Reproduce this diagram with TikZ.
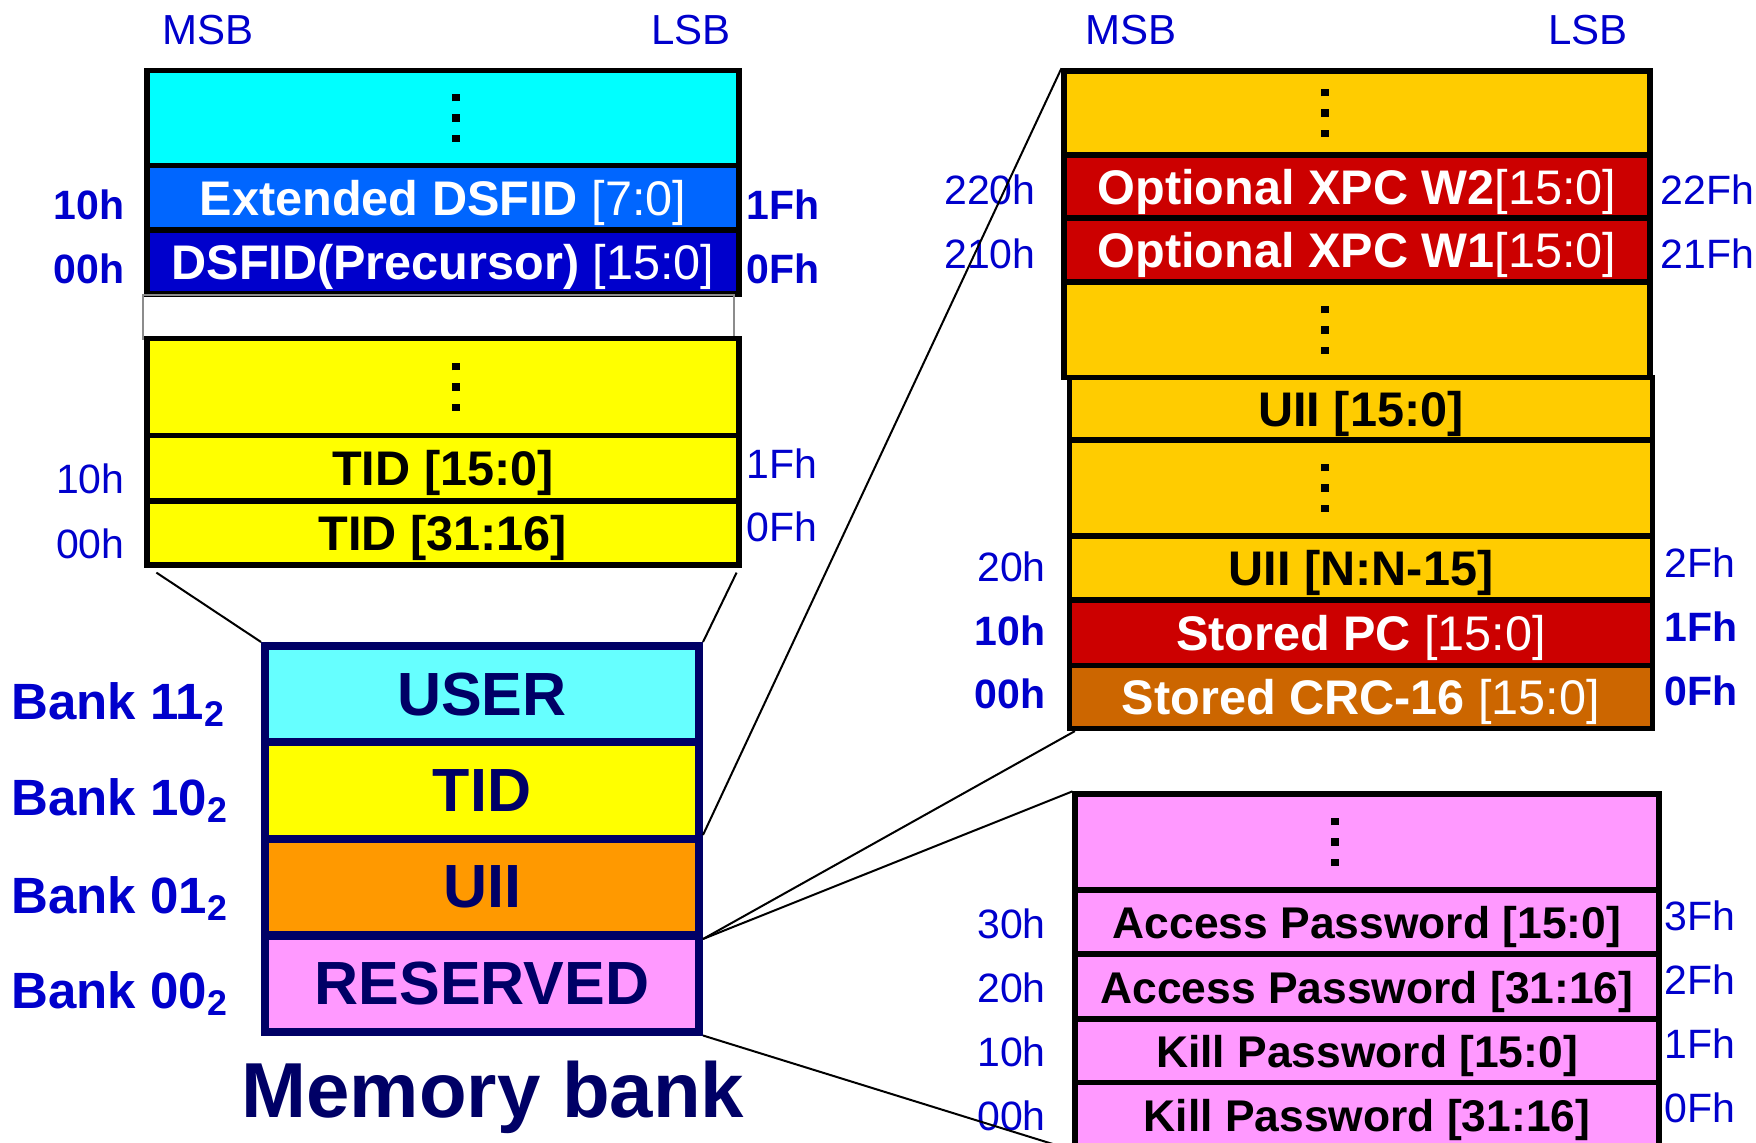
\documentclass[tikz,border=0pt]{standalone}
\usepackage{fontspec}
\setmainfont{Liberation Sans}
\usetikzlibrary{positioning, calc}

\definecolor{addrblue}{RGB}{0, 0, 204}
\definecolor{banknavy}{RGB}{0, 0, 102}
\definecolor{usercyan}{RGB}{102, 255, 255}
\definecolor{tidcyan}{RGB}{0, 255, 255}
\definecolor{tidyellow}{RGB}{255, 255, 0}
\definecolor{extblue}{RGB}{0, 102, 255}
\definecolor{precblue}{RGB}{0, 0, 204}
\definecolor{uiiorange}{RGB}{255, 153, 0}
\definecolor{resepink}{RGB}{255, 153, 255}
\definecolor{uiigold}{RGB}{255, 204, 0}
\definecolor{xpcred}{RGB}{204, 0, 0}
\definecolor{crcbrown}{RGB}{204, 102, 0}

% three square dots, stacked
\newcommand{\dotcol}{\vbox{\offinterlineskip\hbox{\rule{3.6pt}{3.6pt}}\vskip6.5pt\hbox{\rule{3.6pt}{3.6pt}}\vskip6.5pt\hbox{\rule{3.6pt}{3.6pt}}}}
\newcommand{\bits}[1]{{\mdseries#1}}

\begin{document}
\begin{tikzpicture}[x=0.5pt, y=-0.5pt,
  cell/.style={draw=black, line width=2.6pt, inner sep=0pt, text depth=0pt, font=\bfseries\fontsize{24.3}{28}\selectfont},
  tlcell/.style={cell, minimum width=296pt, minimum height=32.5pt},
  uiicell/.style={cell, minimum width=293pt, minimum height=32pt, fill=uiigold},
  lowcell/.style={cell, minimum width=291.5pt, minimum height=32pt, fill=uiigold},
  rescell/.style={cell, minimum width=292pt, minimum height=32pt, fill=resepink, font=\bfseries\fontsize{22.2}{26}\selectfont},
  bankcell/.style={draw=banknavy, line width=4pt, inner sep=0pt, text depth=0pt, minimum width=217pt, minimum height=48pt, text=banknavy, font=\bfseries\fontsize{30.5}{36}\selectfont},
  addr/.style={text=addrblue, inner sep=0pt, font=\fontsize{20.5}{24}\selectfont},
  addrb/.style={addr, font=\bfseries\fontsize{20.5}{24}\selectfont},
  banklabel/.style={text=addrblue, inner sep=0pt, anchor=base west, font=\bfseries\fontsize{25.5}{30}\selectfont},
  link/.style={draw=black, line width=1pt}
]
  \useasboundingbox (0,0) rectangle (1756,1143);

  % TID / USER detail, top left
  \node[addr, font=\fontsize{21}{24}\selectfont] (msbA) at (208,30) {MSB};
  \node[addr, font=\fontsize{21}{24}\selectfont] (lsbA) at (691,30) {LSB};
  \node[tlcell, fill=tidcyan, minimum height=47.5pt] (userDots) at (443,118) {\hspace*{13pt}\dotcol};
  \node[tlcell, fill=extblue, text=white] (extDsfid) at (443,198) {Extended DSFID \bits{[7:0]}};
  \node[tlcell, fill=precblue, text=white, minimum height=32pt] (dsfid) at (443,262) {DSFID(Precursor) \bits{[15:0]}};
  \node[draw=black!45, line width=0.8pt, minimum width=295.5pt, minimum height=22pt, inner sep=0pt] (gap) at (438.5,317) {};
  \node[tlcell, fill=tidyellow, minimum height=48.5pt] (tidDots) at (443,387) {\hspace*{13pt}\dotcol};
  \node[tlcell, fill=tidyellow] (tidA) at (443,468) {TID [15:0]};
  \node[tlcell, fill=tidyellow, minimum height=32pt] (tidB) at (443,533) {TID [31:16]};

  \foreach \t/\y/\s/\n in {10h/205/addrb/a, 00h/269/addrb/b, 10h/479/addr/c, 00h/544/addr/d}
    \node[\s, anchor=east] (tlL\n) at (125,\y) {\t};
  \foreach \t/\y/\s/\n in {1Fh/205/addrb/a, 0Fh/269/addrb/b, 1Fh/464/addr/c, 0Fh/527/addr/d}
    \node[\s, anchor=west] (tlR\n) at (746,\y) {\t};

  % memory banks
  \node[bankcell, fill=usercyan] (user) at (482,694) {USER};
  \node[bankcell, fill=tidyellow] (tid) at (482,790.5) {TID};
  \node[bankcell, fill=uiiorange] (uii) at (482,887) {UII};
  \node[bankcell, fill=resepink] (reserved) at (482,983.5) {RESERVED};
  \node[text=banknavy, inner sep=0pt, font=\bfseries\fontsize{39}{44}\selectfont] (membank) at (493,1097) {Memory bank};

  \node[banklabel] (bank11) at (11,719) {Bank 11\textsubscript{2}};
  \node[banklabel] (bank10) at (11,815) {Bank 10\textsubscript{2}};
  \node[banklabel] (bank01) at (11,913) {Bank 01\textsubscript{2}};
  \node[banklabel] (bank00) at (11,1008) {Bank 00\textsubscript{2}};

  % UII detail, top right
  \node[addr, font=\fontsize{21}{24}\selectfont] (msbB) at (1131,30) {MSB};
  \node[addr, font=\fontsize{21}{24}\selectfont] (lsbB) at (1588,30) {LSB};
  \node[uiicell, minimum height=42pt] (uiiDotsA) at (1357,113) {\dotcol\hspace*{32pt}};
  \node[uiicell, fill=xpcred, text=white] (xpcW2) at (1357,187) {Optional XPC W2\bits{[15:0]}};
  \node[uiicell, fill=xpcred, text=white] (xpcW1) at (1357,250) {Optional XPC W1\bits{[15:0]}};
  \node[uiicell, minimum height=47.5pt] (uiiDotsB) at (1357,330) {\dotcol\hspace*{32pt}};
  \node[lowcell, minimum height=31.5pt] (uiiLow) at (1361,409) {UII [15:0]};
  \node[lowcell, minimum height=48pt] (uiiDotsC) at (1361,488) {\dotcol\hspace*{36pt}};
  \node[lowcell] (uiiHigh) at (1361,568) {UII [N:N-15]};
  \node[lowcell, fill=xpcred, text=white, minimum height=32.5pt] (storedPc) at (1361,633) {Stored PC \bits{[15:0]}};
  \node[lowcell, fill=crcbrown, text=white, minimum height=31.5pt] (storedCrc) at (1361,697) {Stored CRC-16 \bits{[15:0]}};

  \foreach \t/\y/\s/\n in {220h/190/addr/a, 210h/254/addr/b}
    \node[\s, anchor=east] (uiiL\n) at (1036,\y) {\t};
  \foreach \t/\y/\s/\n in {20h/567/addr/c, 10h/631/addrb/d, 00h/694/addrb/e}
    \node[\s, anchor=east] (uiiL\n) at (1046,\y) {\t};
  \foreach \t/\y/\s/\n in {22Fh/190/addr/a, 21Fh/254/addr/b}
    \node[\s, anchor=west] (uiiR\n) at (1660,\y) {\t};
  \foreach \t/\y/\s/\n in {2Fh/563/addr/c, 1Fh/627/addrb/d, 0Fh/691/addrb/e}
    \node[\s, anchor=west] (uiiR\n) at (1664,\y) {\t};

  % RESERVED detail, bottom right
  \node[rescell, minimum height=48pt] (resDots) at (1367,842) {\dotcol\hspace*{32pt}};
  \node[rescell] (accessLow) at (1367,922) {Access Password [15:0]};
  \node[rescell, minimum height=32.5pt] (accessHigh) at (1367,987) {Access Password [31:16]};
  \node[rescell] (killLow) at (1367,1051) {Kill Password [15:0]};
  \node[rescell, minimum height=32.5pt] (killHigh) at (1367,1115) {Kill Password [31:16]};

  \foreach \t/\y/\n in {30h/924/a, 20h/988/b, 10h/1052/c, 00h/1116/d}
    \node[addr, anchor=east] (resL\n) at (1046,\y) {\t};
  \foreach \t/\y/\n in {3Fh/916/a, 2Fh/980/b, 1Fh/1044/c, 0Fh/1108/d}
    \node[addr, anchor=west] (resR\n) at (1664,\y) {\t};

  % zoom lines
  \draw[link] ($(tidB.south west)+(12,5)$) -- (user.north west);
  \draw[link] ($(tidB.south east)+(-5,5)$) -- (user.north east);
  \draw[link] (uii.north east) -- (uiiDotsA.north west);
  \draw[link] (uii.south east) -- ($(storedCrc.south west)+(8,0)$);
  \draw[link] (uii.south east) -- (resDots.north west);
  \draw[link] (reserved.south east) -- (killHigh.south west);
\end{tikzpicture}
\end{document}
